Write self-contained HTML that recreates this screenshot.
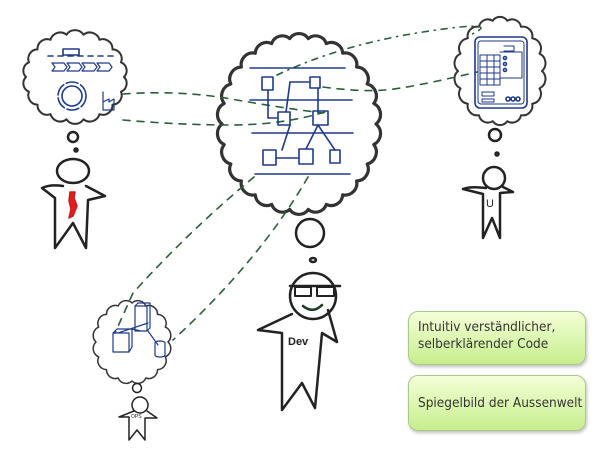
<!DOCTYPE html>
<html><head><meta charset="utf-8"><style>
html,body{margin:0;padding:0;background:#fff;width:600px;height:450px;overflow:hidden}
.box{position:absolute;left:408px;width:178px;border:1px solid #a8c890;border-radius:10px;background:linear-gradient(#f4ffd8,#c6ee8c);box-shadow:1px 2px 3px rgba(0,0,0,.25);font-family:"DejaVu Sans Condensed","Liberation Sans Narrow","Liberation Sans",sans-serif;font-size:13.5px;color:#333;line-height:17px;padding-left:9px;box-sizing:border-box}
</style></head><body>
<svg id="s" width="600" height="450" style="position:absolute;left:0;top:0" fill="none" stroke-linecap="round" stroke-linejoin="round">
<g id="clouds" stroke="#333" stroke-width="3"></g>
<g stroke="#2b5e3c" stroke-width="1.6" stroke-dasharray="7 7">
<path d="M123 94 Q180 90 231 99 T323 113"/>
<path d="M123 120 Q180 125 231 125 T325 112"/>
<path d="M277 75 Q340 45 423 32 T470 35" stroke-dasharray="6 6 1 6"/>
<path d="M323 87 Q360 92 385 90 T477 72"/>
<path d="M254 177 Q190 230 133 293 L115 333"/>
<path d="M308 177 Q260 260 173 340"/>
</g>
<g stroke="#1e3a8a" stroke-width="1.6">
<path d="M250 68H345M250 100H352M252 133H353M255 174H350"/>
<rect x="262" y="77" width="11" height="13"/><rect x="310" y="77" width="10" height="11"/>
<rect x="278" y="112" width="12" height="13"/><rect x="313" y="111" width="15" height="14"/>
<rect x="263" y="150" width="13" height="15"/><rect x="299" y="149" width="14" height="15"/><rect x="330" y="150" width="10" height="13"/>
<path d="M268 90V118H278M310 82H290L286 112M318 88V111M290 125L282 150M276 158H299M318 125L306 149M318 125L335 150"/>
<path d="M48 56H113" stroke-dasharray="5 5"/><rect x="63" y="49" width="16" height="6"/>
<path d="M52 63h12l3 4-3 4H52l3-4zM67 63h12l3 4-3 4H67l3-4zM82 63h12l3 4-3 4H82l3-4zM97 63h12l3 4-3 4H97l3-4z" stroke-width="1.2"/>
<circle cx="72" cy="96" r="14" stroke-dasharray="12 3"/><circle cx="72" cy="96" r="10"/>
<path d="M103 110V92M103 102l6-3v3l5-3v11H103" stroke-width="1.2"/>
<rect x="475" y="37" width="52" height="71" rx="5"/><rect x="478" y="41" width="46" height="63" rx="3" stroke-width="1"/>
<path d="M480 55h20v30h-20zM480 61h20M480 67h20M480 73h20M480 79h20M487 55v30M494 55v30M500 52h22v26h-22M504 46h10v5h-10M482 92h12v4h-12zM482 99h12v3h-12z" stroke-width="1"/>
<circle cx="505" cy="58" r="1.5"/><circle cx="505" cy="64" r="1.5"/><circle cx="505" cy="70" r="1.5"/>
<circle cx="508" cy="99" r="2"/><circle cx="513" cy="99" r="2"/><circle cx="518" cy="99" r="2"/>
<path d="M135 306h12v25h-12zM135 306l3-3h12v25l-3 3M113 333h16v19h-16zM113 333l4-4h15v18l-3 5M148 323l-30 10M141 331l-9 -2M148 331l10 14M155 343a5 2 0 0 1 10 0v12a5 2 0 0 1 -10 0z" stroke-width="1.2"/>
</g>
<path d="M70 192h5l-1 6 3 8-4 10-4 2 2-9-2-8z" fill="#e02020" stroke="#d01818" stroke-width="1.5"/>
<g stroke="#222" stroke-width="2.5">
<circle cx="73" cy="137" r="5"/><circle cx="76" cy="150" r="1.5"/>
<ellipse cx="73" cy="171" rx="16" ry="12"/>
<path d="M63 186Q50 184 42 188L55 198V248L73 223L86 248L88 200L105 196L86 186"/>
<circle cx="495" cy="135" r="6"/><circle cx="497" cy="154" r="1.5"/>
<circle cx="494" cy="178" r="11"/>
<path d="M486 188Q470 186 463 189L483 194V238L492 218L500 238V193L513 192L503 187"/>
<circle cx="310" cy="233" r="14"/><ellipse cx="313" cy="260" rx="3" ry="2"/>
<circle cx="313" cy="296" r="23"/>
<path d="M290 286H340" /><rect x="295" y="287" width="16" height="9" stroke-width="2"/><rect x="317" y="287" width="17" height="9" stroke-width="2"/>
<path d="M303 306Q313 314 322 305" stroke="#1d3a25"/>
<path d="M292 314L258 330L282 333V410L302 383L315 408L322 333L337 342L328 310"/>
<circle cx="137" cy="388" r="4.5" stroke-width="1.5"/>
<circle cx="140" cy="405" r="8" stroke-width="1.5"/>
<path d="M134 411l-15 6 10 0v23l8-10 8 10v-22l12 0-10-7" stroke-width="1.5"/>
</g>
<text x="486" y="207" font-family="Liberation Sans,sans-serif" font-size="11" fill="#222">U</text>
<text x="288" y="345" font-family="Liberation Sans,sans-serif" font-size="11" font-weight="bold" fill="#222">Dev</text>
<text x="131" y="418" font-family="Liberation Sans,sans-serif" font-size="5" fill="#222">OPS</text>
</svg>
<div class="box" style="top:311px;height:54px;padding-top:7px">Intuitiv verständlicher,<br>selberklärender Code</div>
<div class="box" style="top:375px;height:56px;padding-top:19px">Spiegelbild der Aussenwelt</div>
<script>
function cloud(cx,cy,rx,ry,n,sw){
 var d="",pts=[];
 for(var i=0;i<n;i++){var a=i/n*Math.PI*2;pts.push([cx+rx*Math.cos(a),cy+ry*Math.sin(a)]);}
 d="M"+pts[0][0].toFixed(1)+" "+pts[0][1].toFixed(1);
 for(var i=1;i<=n;i++){var p=pts[i%n],q=pts[i-1];var l=Math.hypot(p[0]-q[0],p[1]-q[1]);
  d+=" A"+(l*0.6).toFixed(1)+" "+(l*0.6).toFixed(1)+" 0 0 1 "+p[0].toFixed(1)+" "+p[1].toFixed(1);}
 var e=document.createElementNS("http://www.w3.org/2000/svg","path");e.setAttribute("d",d);e.setAttribute("stroke-width",sw);
 document.getElementById("clouds").appendChild(e);
}
cloud(299,124,77,86,26,3.2);
cloud(75,77,49,43,18,2);
cloud(500,71,42,51,18,2);
cloud(132,342,36,39,16,1.5);
</script>
</body></html>
